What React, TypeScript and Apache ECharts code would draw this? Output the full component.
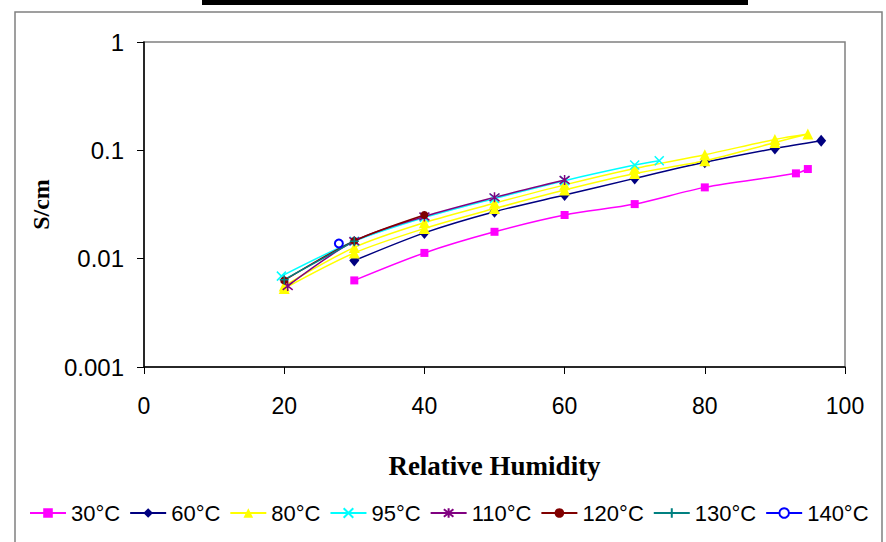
import React, { useEffect, useRef } from 'react';
import * as echarts from 'echarts';

const seriesNames = ['30°C', '60°C', '80°C', '95°C', '110°C', '120°C', '130°C', '140°C'];
const seriesColors = ['#FF00FF', '#000080', '#FFFF00', '#00FFFF', '#800080', '#800000', '#008080', '#0000FF'];

const rh30 = [30, 40, 50, 60, 70, 80, 93, 94.7];
const s30 = [0.0063, 0.0113, 0.0177, 0.0253, 0.0319, 0.0455, 0.0613, 0.0672];

const rh60 = [30, 40, 50, 60, 70, 80, 90, 96.6];
const s60 = [0.0096, 0.0173, 0.0271, 0.0387, 0.0551, 0.0775, 0.104, 0.1227];

const rh80 = [20, 30, 40, 50, 60, 70, 80, 90, 94.7, 90, 80, 70, 60, 50, 40, 30, 20];
const s80 = [0.0053, 0.0113, 0.019, 0.029, 0.043, 0.061, 0.08, 0.118, 0.1415, 0.126, 0.091, 0.068, 0.048, 0.0325, 0.0215, 0.0127, 0.0056];

const rh95 = [19.6, 30, 40, 50, 60, 70, 73.5];
const s95 = [0.0069, 0.0145, 0.024, 0.036, 0.0525, 0.0731, 0.0802];

const rh110 = [20.5, 30, 40, 50, 60];
const s110 = [0.0056, 0.0145, 0.0245, 0.0368, 0.0532];

const rh120 = [20, 30, 40];
const s120 = [0.0063, 0.0146, 0.0253];

const rh130 = [20, 30];
const s130 = [0.0064, 0.0145];

const rh140 = [27.8];
const s140 = [0.0138];

const xTicks = [0, 20, 40, 60, 80, 100];
const yTickLabels = ['0.001', '0.01', '0.1', '1'];

const allX = [rh30, rh60, rh80, rh95, rh110, rh120, rh130, rh140];
const allY = [s30, s60, s80, s95, s110, s120, s130, s140];

const symbols: any[] = [
  { symbol: 'rect', size: 8, border: 0 },
  { symbol: 'diamond', size: [10, 12], border: 0 },
  { symbol: 'triangle', size: 11, border: 0 },
  { symbol: 'path://M0,0L10,10M10,0L0,10', size: 9, border: 1.5 },
  { symbol: 'path://M0,0L10,10M10,0L0,10M5,-1.5L5,11.5', size: 10, border: 1.5 },
  { symbol: 'circle', size: 8, border: 0 },
  { symbol: 'path://M5,0L5,10M0,5L10,5', size: 9, border: 1.5 },
  { symbol: 'emptyCircle', size: 8, border: 1.5 },
];

export default function App() {
  const ref = useRef<HTMLDivElement>(null);
  useEffect(() => {
    const chart = echarts.init(ref.current!, null, { renderer: 'svg' });
    const series = seriesNames.map((name, i) => ({
      name,
      type: 'line',
      data: allX[i].map((x, j) => [x, allY[i][j]]),
      smooth: 0.3,
      symbol: symbols[i].symbol,
      symbolSize: symbols[i].size,
      showSymbol: true,
      showAllSymbol: true,
      lineStyle: { color: seriesColors[i], width: 1.5 },
      itemStyle: {
        color: seriesColors[i],
        borderColor: seriesColors[i],
        borderWidth: symbols[i].border,
      },
    }));
    chart.setOption({
      animation: false,
      backgroundColor: '#fff',
      grid: {
        left: 144,
        right: 41,
        top: 42,
        bottom: 175,
        show: true,
        borderColor: '#808080',
        borderWidth: 1.5,
        containLabel: false,
      },
      graphic: [
        {
          type: 'rect',
          shape: { x: 15, y: 12, width: 867, height: 545 },
          style: { fill: 'none', stroke: '#808080', lineWidth: 1.5 },
          silent: true,
        },
        {
          type: 'rect',
          shape: { x: 202, y: 0, width: 546, height: 5 },
          style: { fill: '#000' },
          silent: true,
        },
      ],
      xAxis: {
        type: 'value',
        min: 0,
        max: 100,
        interval: 20,
        name: 'Relative Humidity',
        nameLocation: 'middle',
        nameGap: 85,
        nameTextStyle: { fontFamily: 'Liberation Serif', fontWeight: 'bold', fontSize: 27, color: '#000' },
        axisLine: { onZero: false, lineStyle: { color: '#000', width: 1.5 } },
        axisTick: { show: true, length: 7, lineStyle: { color: '#000', width: 1 } },
        axisLabel: {
          margin: 27,
          fontFamily: 'Liberation Sans',
          fontSize: 23,
          color: '#000',
          formatter: (v: number) => (xTicks.includes(v) ? String(v) : ''),
        },
        splitLine: { show: false },
      },
      yAxis: {
        type: 'log',
        logBase: 10,
        min: 0.001,
        max: 1,
        name: 'S/cm',
        nameLocation: 'middle',
        nameRotate: 90,
        nameGap: 91,
        nameTextStyle: { fontFamily: 'Liberation Serif', fontWeight: 'bold', fontSize: 24, color: '#000' },
        axisLine: { show: true, lineStyle: { color: '#000', width: 1.5 } },
        axisTick: { show: true, length: 7, lineStyle: { color: '#000', width: 1 } },
        minorTick: { show: false },
        axisLabel: {
          margin: 20,
          fontFamily: 'Liberation Sans',
          fontSize: 24,
          color: '#000',
          formatter: (v: number) => {
            const k = Math.round(Math.log10(v)) + 3;
            return yTickLabels[k] ?? '';
          },
        },
        splitLine: { show: false },
      },
      legend: {
        data: seriesNames,
        left: 29,
        top: 502,
        width: 857,
        padding: 0,
        itemWidth: 36,
        itemHeight: 12,
        itemGap: 9,
        textStyle: { fontFamily: 'Liberation Sans', fontSize: 22, color: '#000' },
      },
      series,
    });
    return () => chart.dispose();
  }, []);
  return (
    <div
      ref={ref}
      style={{ position: 'fixed', left: 0, top: 0, width: 886, height: 542, background: '#fff' }}
    />
  );
}
